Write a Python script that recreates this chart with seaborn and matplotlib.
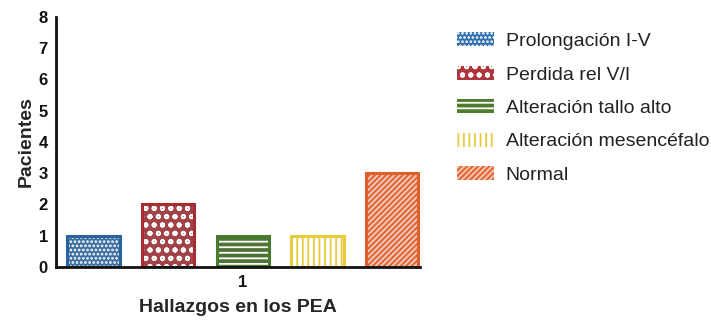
import matplotlib
matplotlib.use("Agg")
import matplotlib.pyplot as plt
import seaborn as sns
import pandas as pd
from matplotlib.patches import Rectangle, Patch

categories = ["Prolongación I-V", "Perdida rel V/I", "Alteración tallo alto",
              "Alteración mesencéfalo", "Normal"]
values = [1, 2, 1, 1, 3]
group = ["1"] * 5
yticks = [0, 1, 2, 3, 4, 5, 6, 7, 8]

fills = ["#2f6fb0", "#b0343c", "#4d7d2c", "#ffffff", "#f6c0ac"]
outlines = ["#2a64a0", "#a82c34", "#477a2a", "#e8cc3c", "#e0602c"]
hatch_cols = ["#ffffff", "#ffffff", "#ffffff", "#e8cc3c", "#e0602c"]
hatches = ["....", "oo", "---", "|||", "//////"]

sns.set_theme(style="white")
plt.rcParams["font.family"] = ["Liberation Sans", "DejaVu Sans"]
plt.rcParams["hatch.linewidth"] = 1.3

df = pd.DataFrame({"grupo": group, "cat": categories, "val": values})

fig = plt.figure(figsize=(7.11, 3.26), dpi=100)
ax = fig.add_axes([0.079, 0.181, 0.512, 0.767])
sns.barplot(data=df, x="grupo", y="val", hue="cat", hue_order=categories,
            palette=fills, gap=0.3, width=0.8, ax=ax, legend=False,
            linewidth=0)

bars = [p for p in ax.patches]
for p, hc, h, oc in zip(bars, hatch_cols, hatches, outlines):
    p.set_hatch(h)
    p.set_edgecolor(hc)
    p.set_linewidth(0)
    ax.add_patch(Rectangle(p.get_xy(), p.get_width(), p.get_height(),
                           fill=False, edgecolor=oc, linewidth=2.2, zorder=3))

ax.set_xlim(-0.40, 0.38)
ax.set_ylim(0, 8)
ax.set_yticks(yticks)
ax.set_yticklabels([str(t) for t in yticks], fontsize=12, fontweight="bold")
ax.set_xticks([0])
ax.set_xticklabels(["1"], fontsize=12, fontweight="bold")
ax.set_ylabel("Pacientes", fontsize=14, fontweight="bold", labelpad=3)
ax.set_xlabel("Hallazgos en los PEA", fontsize=14, fontweight="bold", labelpad=6)
for s in ["top", "right"]:
    ax.spines[s].set_visible(False)
for s in ["left", "bottom"]:
    ax.spines[s].set_linewidth(2)
    ax.spines[s].set_color("#111111")
ax.tick_params(axis="both", direction="out", length=5, width=2, colors="#111111",
               pad=1)
ax.spines["bottom"].set_zorder(4)

handles = [Patch(facecolor=f, edgecolor=hc, hatch=h, linewidth=0)
           for f, hc, h in zip(fills, hatch_cols, hatches)]
leg = fig.legend(handles, categories, loc="upper left", bbox_to_anchor=(0.618, 0.955),
                 frameon=False, fontsize=14, handlelength=1.9, handleheight=0.75,
                 labelspacing=0.8, handletextpad=0.6)
for t in leg.get_texts():
    t.set_color("#222222")

fig.savefig("out.png", dpi=100)
